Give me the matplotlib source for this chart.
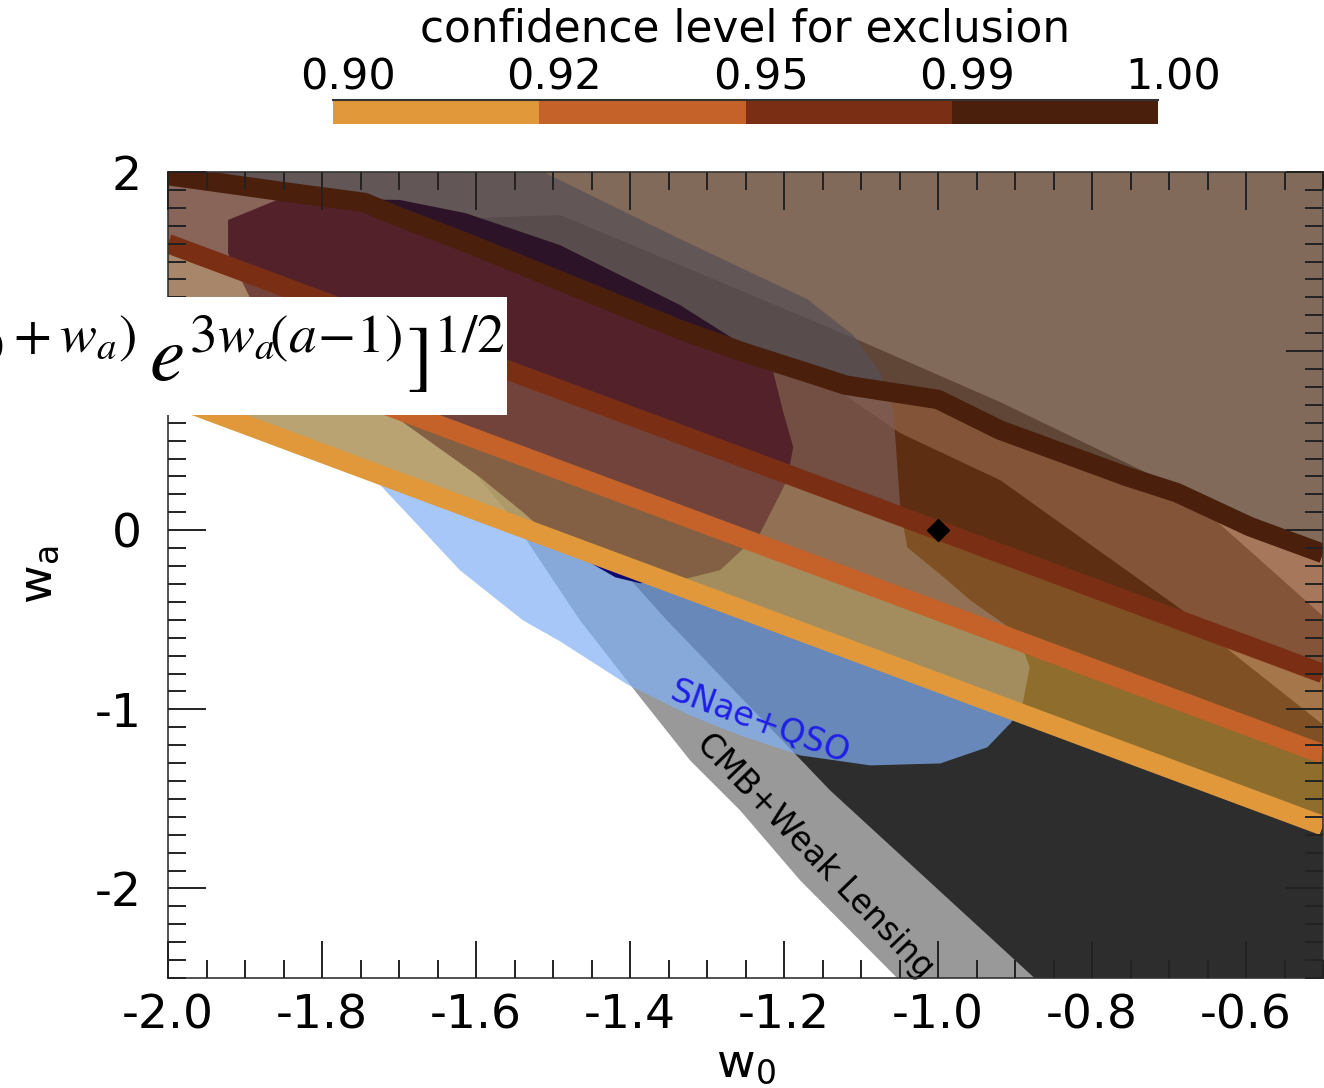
import matplotlib
matplotlib.use('Agg')
import matplotlib.pyplot as plt
from matplotlib.patches import Rectangle
from matplotlib.ticker import MultipleLocator, FormatStrFormatter
from matplotlib.colors import ListedColormap, BoundaryNorm
from matplotlib.cm import ScalarMappable
from matplotlib.transforms import ScaledTranslation
import numpy as np

plt.rcParams['axes.unicode_minus'] = False
plt.rcParams['font.family'] = ['DejaVu Sans']

# confidence levels for exclusion
levels = [0.90, 0.92, 0.95, 0.99, 1.00]
level_labels = ['0.90', '0.92', '0.95', '0.99', '1.00']
line_colors = ['#e0983a', '#c4622a', '#7a2e14', '#4a1f0c']
fill_colors = ['#c4912d', '#aa641e', '#792f04', '#401a02']

# straight exclusion boundaries, given at the ends of the w0 range
w0_edges = [-2.0, -0.5]
wa_090 = [0.75, -1.65]
wa_092 = [1.15, -1.25]
wa_095 = [1.60, -0.80]
# the 0.99 boundary is bent
w0_099 = [-2.0, -1.85, -1.745, -1.70, -1.615, -1.335, -1.25, -1.17, -1.12,
          -1.0, -0.92, -0.755, -0.69, -0.595, -0.5]
wa_099 = [1.98, 1.89, 1.83, 1.75, 1.61, 1.12, 0.99, 0.88, 0.81,
          0.73, 0.56, 0.30, 0.21, 0.02, -0.13]

# CMB + weak lensing contours
cmb_outer_w0 = [-1.03, -1.179, -1.257, -1.322, -1.394, -1.465, -1.556, -1.660,
                -1.699, -1.673, -1.491, -1.335, -1.118, -0.919, -0.690, -0.625,
                -0.504, -0.40, -0.40]
cmb_outer_wa = [-2.6, -1.955, -1.564, -1.285, -0.894, -0.503, 0.084, 0.615,
                1.117, 1.732, 1.760, 1.480, 1.089, 0.715, 0.240, 0.0,
                -0.464, -0.894, -2.6]
cmb_inner_w0 = [-0.851, -0.874, -1.140, -1.352, -1.422, -1.491, -1.530, -1.491,
                -1.374, -1.244, -1.127, -1.049, -0.919, -0.677, -0.617, -0.499,
                -0.40, -0.40]
cmb_inner_wa = [-2.6, -2.503, -1.453, -0.503, -0.168, 0.168, 0.559, 1.117,
                1.285, 1.006, 0.771, 0.542, 0.279, -0.464, -0.687, -1.089,
                -1.425, -2.6]

# SNae + QSO contours
sn_outer_w0 = [-1.56, -1.335, -1.170, -1.110, -1.075, -1.058, -1.049, -1.040,
               -0.988, -0.958, -0.897, -0.881, -0.891, -0.906, -0.936, -0.997,
               -1.088, -1.179, -1.257, -1.322, -1.404, -1.491, -1.539, -1.621,
               -1.673, -1.734, -1.777, -1.829, -1.958, -2.1, -2.1]
sn_outer_wa = [2.1, 1.626, 1.291, 1.089, 0.883, 0.670, 0.128, -0.095,
               -0.279, -0.391, -0.575, -0.765, -0.989, -1.078, -1.212, -1.302,
               -1.313, -1.257, -1.145, -1.034, -0.860, -0.620, -0.503, -0.223,
               0.017, 0.296, 0.413, 0.503, 0.726, 0.80, 2.1]
sn_inner_w0 = [-1.922, -1.852, -1.699, -1.614, -1.491, -1.335, -1.253, -1.214,
               -1.201, -1.188, -1.196, -1.231, -1.283, -1.335, -1.387, -1.419,
               -1.491, -1.539, -1.595, -1.699, -1.829, -1.894, -1.922]
sn_inner_wa = [1.732, 1.855, 1.844, 1.771, 1.592, 1.257, 1.034, 0.883,
               0.659, 0.464, 0.279, -0.017, -0.223, -0.279, -0.296, -0.263,
               -0.084, 0.101, 0.296, 0.615, 1.061, 1.302, 1.547]

fiducial = (-1.0, 0.0)

W, H = 1324, 1088
fig = plt.figure(figsize=(W / 100, H / 100), dpi=100)
ax = fig.add_axes([168 / W, 1 - 978 / H, 1155 / W, 806 / H])

xlim = (-2.0, -0.5)
ylim = (-2.5, 2.0)
wa_top = 2.6

# contours from the data sets
ax.fill(cmb_outer_w0, cmb_outer_wa, color='#999999', lw=0, zorder=1)
ax.fill(cmb_inner_w0, cmb_inner_wa, color='#2d2d2d', lw=0, zorder=1.1)
ax.fill(sn_outer_w0, sn_outer_wa, color='#80b0f5', alpha=0.7, lw=0, zorder=2)
ax.fill(sn_inner_w0, sn_inner_wa, color='#0c0870', lw=0, zorder=2.1)

# exclusion bands between the boundaries
bounds_w0 = [w0_edges, w0_edges, w0_edges, w0_099]
bounds_wa = [wa_090, wa_092, wa_095, wa_099]
for i in range(4):
    x_lo, y_lo = list(bounds_w0[i]), list(bounds_wa[i])
    if i < 3:
        x_hi, y_hi = list(bounds_w0[i + 1]), list(bounds_wa[i + 1])
    else:
        x_hi, y_hi = [xlim[0], xlim[1]], [wa_top, wa_top]
    px = x_lo + x_hi[::-1]
    py = y_lo + y_hi[::-1]
    ax.fill(px, py, color=fill_colors[i], alpha=0.65, lw=0, zorder=3)

for i in range(4):
    ax.plot(bounds_w0[i], bounds_wa[i], color=line_colors[i], lw=14,
            solid_capstyle='butt', solid_joinstyle='round', zorder=4)

ax.plot(*fiducial, marker='D', color='black', ms=11, zorder=5)

ax.text(-1.231, -1.073, 'SNae+QSO', color='#1f1fe6', fontsize=24,
        rotation=-20, rotation_mode='anchor', ha='center', va='center', zorder=6)
ax.text(-1.160, -1.816, 'CMB+Weak Lensing', color='black', fontsize=23.5,
        rotation=-46, rotation_mode='anchor', ha='center', va='center', zorder=6)

ax.set_xlim(*xlim)
ax.set_ylim(*ylim)
ax.xaxis.set_major_locator(MultipleLocator(0.2))
ax.xaxis.set_minor_locator(MultipleLocator(0.05))
ax.yaxis.set_major_locator(MultipleLocator(1))
ax.yaxis.set_minor_locator(MultipleLocator(0.1))
ax.xaxis.set_major_formatter(FormatStrFormatter('%.1f'))
ax.yaxis.set_major_formatter(FormatStrFormatter('%d'))
ax.tick_params(which='both', direction='in', top=True, right=True,
               color='#222222', width=1.4, labelsize=34)
ax.tick_params(which='major', length=27)
ax.tick_params(which='minor', length=13)
ax.tick_params(axis='x', pad=11)
ax.tick_params(axis='y', pad=19)
for axis in (ax.xaxis, ax.yaxis):
    axis.set_zorder(10)
for sp in ax.spines.values():
    sp.set_zorder(10)
    sp.set_linewidth(1.2)
    sp.set_color('#333333')

ax.set_xlabel(r'$\mathregular{w_0}$', fontsize=34, labelpad=2)
ax.set_ylabel(r'$\mathregular{w_a}$', fontsize=34, labelpad=24)

# colour bar for the exclusion levels
cax = fig.add_axes([333 / W, 1 - 124 / H, 825 / W, 24 / H])
cmap = ListedColormap(line_colors)
norm = BoundaryNorm(levels, cmap.N)
cbar = fig.colorbar(ScalarMappable(norm=norm, cmap=cmap), cax=cax,
                    orientation='horizontal', spacing='uniform', ticks=levels)
cbar.outline.set_visible(False)
cax.plot([0, 1], [1, 1], transform=cax.transAxes, color='#333333', lw=1.5,
         clip_on=False)
cax.xaxis.set_ticks_position('top')
cax.xaxis.set_label_position('top')
cax.set_xticklabels(level_labels)
cax.tick_params(length=0, labelsize=31, pad=1)
shift = ScaledTranslation(0.15, 0, fig.dpi_scale_trans)
for lab in cax.get_xticklabels():
    lab.set_transform(lab.get_transform() + shift)
cbar.set_label('confidence level for exclusion', fontsize=31.5, labelpad=11)

# expansion rate formula box
fig.patches.append(Rectangle((0, 1 - 415 / H), 507 / W, 118 / H,
                             transform=fig.transFigure, facecolor='white',
                             edgecolor='none', zorder=4))
formula = (r'$H(a)=H_0[\Omega_m a^{-3}+\Omega_{DE}\,a^{-3(1+w_0+w_a)}'
           r'\,e^{3w_a\!(a\!-\!1)}]^{1/2}$')
fig.text(505 / W, 1 - 380 / H, formula, ha='right', va='baseline',
         fontsize=57, math_fontfamily='stix', zorder=5)

fig.savefig('out.png', dpi=100)
